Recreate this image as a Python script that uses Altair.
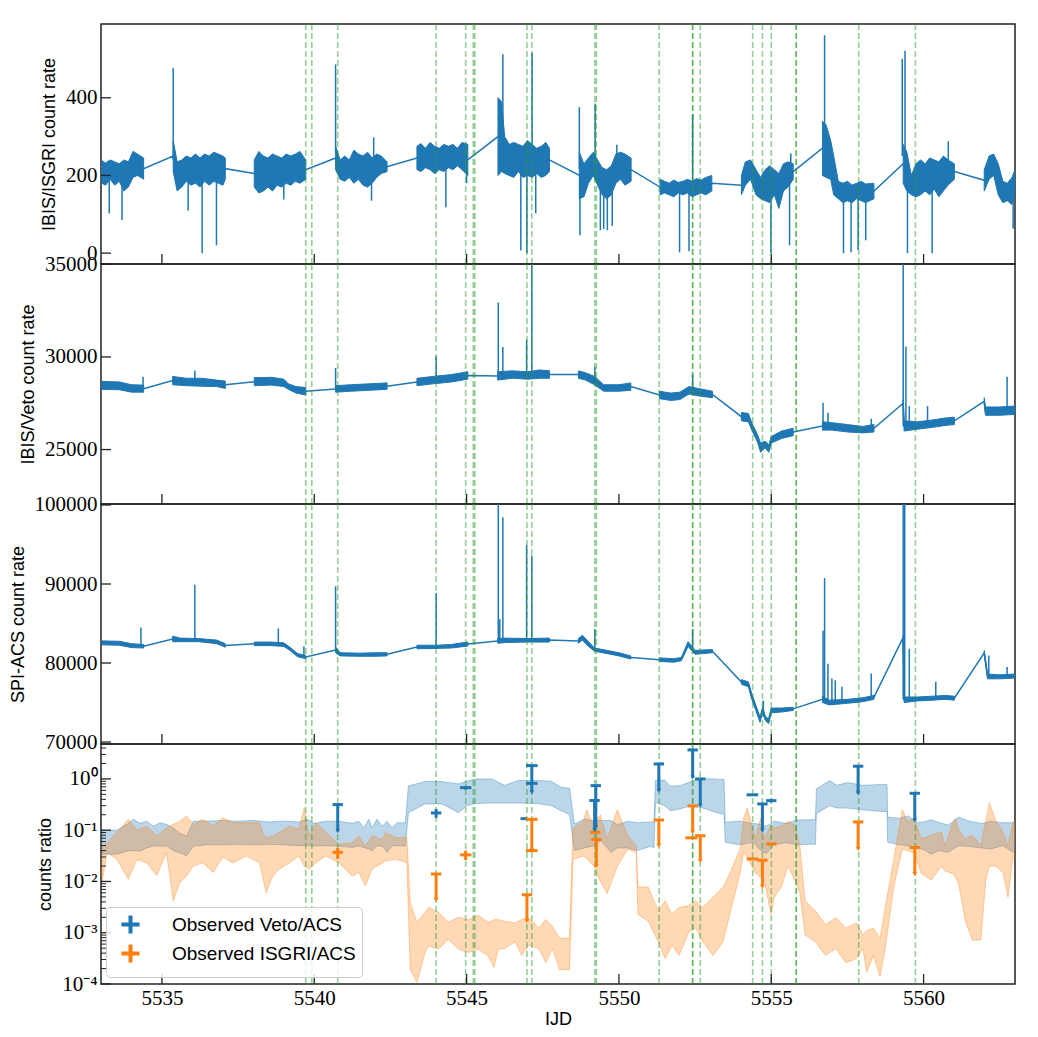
import altair as alt
import pandas as pd

BLUE = "#1f77b4"
ORANGE = "#ff7f0e"
GREEN = "#2ca02c"
W, H = 914, 240
X_DOMAIN = [5533, 5563]

x_ticks = [5535, 5540, 5545, 5550, 5555, 5560]

# green dashed markers (two of them are drawn twice in the original)
marker_times = [5539.72, 5539.92, 5540.77, 5544.00, 5544.97, 5545.22, 5545.27,
                5546.98, 5547.14, 5549.21, 5549.26, 5551.32, 5552.42, 5552.42,
                5552.67, 5554.39, 5554.71, 5555.00, 5555.82, 5555.82, 5557.87, 5559.73]

# ---- IBIS/ISGRI count rate: (segment, IJD, low, high) of the noisy band
isgri_band = [
    ("A", 5533.03, 180, 238), ("A", 5533.15, 175, 232), ("A", 5533.30, 190, 240), ("A", 5533.45, 175, 235),
    ("A", 5533.60, 185, 230), ("A", 5533.75, 160, 240), ("A", 5533.90, 170, 235), ("A", 5534.05, 195, 262),
    ("A", 5534.20, 200, 255), ("A", 5534.40, 190, 245),
    ("B", 5535.37, 210, 290), ("B", 5535.50, 160, 235), ("B", 5535.65, 170, 240), ("B", 5535.80, 185, 250),
    ("B", 5535.95, 175, 245), ("B", 5536.10, 180, 255), ("B", 5536.25, 170, 245), ("B", 5536.40, 185, 255),
    ("B", 5536.55, 175, 250), ("B", 5536.70, 185, 260), ("B", 5536.85, 180, 255), ("B", 5537.00, 175, 250),
    ("B", 5537.08, 190, 245),
    ("C", 5538.03, 170, 240), ("C", 5538.18, 155, 262), ("C", 5538.33, 160, 250), ("C", 5538.48, 170, 245),
    ("C", 5538.63, 160, 255), ("C", 5538.78, 175, 250), ("C", 5538.93, 170, 245), ("C", 5539.08, 180, 255),
    ("C", 5539.23, 175, 250), ("C", 5539.38, 185, 255), ("C", 5539.53, 180, 262), ("C", 5539.72, 190, 240),
    ("D", 5540.70, 215, 275), ("D", 5540.85, 190, 240), ("D", 5541.00, 185, 250), ("D", 5541.15, 195, 240),
    ("D", 5541.30, 180, 265), ("D", 5541.45, 190, 255), ("D", 5541.60, 175, 250), ("D", 5541.75, 170, 260),
    ("D", 5541.90, 180, 245), ("D", 5542.05, 195, 255), ("D", 5542.20, 205, 250), ("D", 5542.39, 210, 235),
    ("E", 5543.37, 215, 275), ("E", 5543.50, 210, 282), ("E", 5543.65, 220, 270), ("E", 5543.80, 215, 285),
    ("E", 5543.95, 205, 275), ("E", 5544.10, 215, 270), ("E", 5544.25, 210, 280), ("E", 5544.40, 220, 275),
    ("E", 5544.55, 215, 280), ("E", 5544.70, 225, 270), ("E", 5544.85, 215, 285), ("E", 5545.04, 200, 280),
    ("F", 5546.03, 200, 400), ("F", 5546.15, 210, 390), ("F", 5546.25, 205, 300), ("F", 5546.40, 200, 280),
    ("F", 5546.55, 195, 285), ("F", 5546.70, 210, 280), ("F", 5546.85, 195, 275), ("F", 5547.00, 200, 290),
    ("F", 5547.15, 195, 280), ("F", 5547.30, 205, 270), ("F", 5547.45, 195, 275), ("F", 5547.60, 200, 285),
    ("F", 5547.72, 210, 270),
    ("G", 5548.70, 140, 260), ("G", 5548.85, 145, 230), ("G", 5549.00, 180, 245), ("G", 5549.16, 200, 260),
    ("G", 5549.30, 175, 240), ("G", 5549.45, 150, 220), ("G", 5549.60, 140, 215), ("G", 5549.75, 150, 225),
    ("G", 5549.90, 180, 255), ("G", 5550.05, 190, 260), ("G", 5550.20, 175, 255), ("G", 5550.40, 185, 245),
    ("H", 5551.35, 150, 190), ("H", 5551.50, 155, 185), ("H", 5551.65, 150, 180), ("H", 5551.80, 145, 188),
    ("H", 5551.95, 155, 182), ("H", 5552.10, 150, 185), ("H", 5552.25, 155, 190), ("H", 5552.40, 145, 185),
    ("H", 5552.55, 150, 192), ("H", 5552.70, 155, 188), ("H", 5552.85, 150, 195), ("H", 5553.05, 160, 200),
    ("I", 5554.02, 150, 200), ("I", 5554.15, 175, 235), ("I", 5554.32, 190, 240), ("I", 5554.50, 150, 215),
    ("I", 5554.65, 140, 195), ("I", 5554.80, 135, 215), ("I", 5554.95, 130, 225), ("I", 5555.10, 150, 215),
    ("I", 5555.25, 115, 205), ("I", 5555.40, 160, 230), ("I", 5555.55, 170, 235), ("I", 5555.72, 190, 230),
    ("J", 5556.68, 200, 340), ("J", 5556.80, 195, 330), ("J", 5556.95, 190, 290), ("J", 5557.05, 150, 250),
    ("J", 5557.20, 140, 185), ("J", 5557.35, 130, 180), ("J", 5557.50, 135, 185), ("J", 5557.65, 130, 175),
    ("J", 5557.80, 140, 180), ("J", 5557.95, 135, 185), ("J", 5558.10, 130, 178), ("J", 5558.37, 140, 180),
    ("K", 5559.33, 180, 280), ("K", 5559.45, 160, 260), ("K", 5559.60, 150, 200), ("K", 5559.75, 145, 230),
    ("K", 5559.90, 150, 240), ("K", 5560.05, 160, 230), ("K", 5560.20, 150, 245), ("K", 5560.35, 165, 240),
    ("K", 5560.50, 145, 235), ("K", 5560.65, 160, 250), ("K", 5560.80, 175, 240), ("K", 5561.01, 190, 230),
    ("L", 5561.99, 160, 215), ("L", 5562.15, 190, 250), ("L", 5562.30, 200, 255), ("L", 5562.45, 150, 230),
    ("L", 5562.60, 130, 185), ("L", 5562.75, 135, 180), ("L", 5562.90, 125, 195), ("L", 5563.00, 160, 215),
]
# (IJD, base, tip) of single-bin spikes
isgri_spikes = [
    (5533.27, 200, 102), (5533.69, 200, 85), (5535.37, 240, 477), (5535.86, 190, 110), (5536.32, 190, 0),
    (5536.79, 190, 20), (5539.00, 190, 138), (5540.70, 260, 486), (5541.88, 200, 135), (5541.95, 230, 298),
    (5544.32, 230, 118), (5545.00, 220, 180), (5546.19, 300, 512), (5546.78, 220, 7), (5546.98, 220, 0),
    (5547.15, 240, 516), (5547.27, 220, 103), (5548.70, 216, 376), (5548.72, 200, 46), (5549.22, 220, 385),
    (5549.39, 170, 59), (5549.50, 170, 62), (5549.62, 170, 59), (5549.78, 170, 70), (5549.93, 220, 279),
    (5551.99, 165, 2), (5552.30, 165, 5), (5552.42, 170, 358), (5554.99, 170, 0), (5555.60, 190, 20),
    (5555.64, 210, 257), (5556.75, 300, 561), (5557.37, 160, 0), (5557.62, 160, 2), (5557.85, 160, 8),
    (5558.10, 160, 33), (5559.30, 250, 500), (5559.39, 250, 521), (5559.47, 200, 0), (5560.28, 190, 0),
    (5560.81, 210, 288), (5562.94, 170, 63),
]

# ---- IBIS/Veto count rate
veto_band = [
    ("A", 5533.03, 28250, 28680), ("A", 5533.60, 28230, 28650), ("A", 5534.00, 28100, 28500), ("A", 5534.40, 28100, 28480),
    ("B", 5535.35, 28500, 28950), ("B", 5535.80, 28450, 28850), ("B", 5536.30, 28420, 28850), ("B", 5536.80, 28400, 28750),
    ("B", 5537.08, 28300, 28700),
    ("C", 5538.03, 28450, 28880), ("C", 5538.60, 28480, 28900), ("C", 5539.00, 28400, 28800), ("C", 5539.15, 28250, 28550),
    ("C", 5539.40, 28050, 28400), ("C", 5539.72, 27950, 28350),
    ("D", 5540.70, 28100, 28450), ("D", 5541.20, 28150, 28500), ("D", 5541.80, 28200, 28550), ("D", 5542.39, 28250, 28600),
    ("E", 5543.37, 28450, 28850), ("E", 5543.90, 28550, 28950), ("E", 5544.50, 28650, 29050), ("E", 5545.04, 28800, 29200),
    ("F", 5546.02, 28750, 29200), ("F", 5546.50, 28850, 29250), ("F", 5547.00, 28800, 29200), ("F", 5547.40, 28850, 29300),
    ("F", 5547.72, 28850, 29250),
    ("G", 5548.67, 28850, 29250), ("G", 5548.90, 28750, 29150), ("G", 5549.20, 28500, 28950), ("G", 5549.50, 28150, 28500),
    ("G", 5550.00, 28150, 28500), ("G", 5550.39, 28200, 28600),
    ("H", 5551.33, 27750, 28150), ("H", 5551.70, 27650, 28050), ("H", 5552.00, 27700, 28100), ("H", 5552.30, 28000, 28400),
    ("H", 5552.60, 27900, 28300), ("H", 5553.07, 27800, 28150),
    ("I", 5554.02, 26550, 27000), ("I", 5554.25, 26500, 26950), ("I", 5554.36, 26050, 26450), ("I", 5554.55, 25400, 25800),
    ("I", 5554.65, 24850, 25350), ("I", 5554.80, 25100, 25450), ("I", 5554.92, 24850, 25250), ("I", 5555.00, 25350, 25700),
    ("I", 5555.34, 25600, 26000), ("I", 5555.72, 25750, 26150),
    ("J", 5556.68, 26050, 26500), ("J", 5557.00, 26050, 26450), ("J", 5557.50, 25950, 26350), ("J", 5558.00, 25900, 26250),
    ("J", 5558.37, 25950, 26350),
    ("K", 5559.33, 27300, 27700), ("K", 5559.36, 26000, 26550), ("K", 5559.80, 26100, 26500), ("K", 5560.30, 26200, 26600),
    ("K", 5560.70, 26300, 26700), ("K", 5561.01, 26350, 26750),
    ("L", 5561.99, 27400, 27800), ("L", 5562.03, 26850, 27300), ("L", 5562.50, 26850, 27300), ("L", 5563.00, 26900, 27350),
]
veto_spikes = [
    (5534.38, 28300, 28925), (5536.08, 28650, 29263), (5540.70, 28300, 29409), (5544.00, 28750, 30033),
    (5545.00, 29000, 29226), (5546.04, 28950, 32936), (5546.19, 29000, 30537), (5546.97, 29000, 30930),
    (5547.14, 29050, 35500), (5549.21, 28700, 29462), (5552.42, 28200, 29048), (5556.70, 26270, 27527),
    (5556.86, 26270, 26989), (5558.28, 26150, 26667), (5559.33, 26270, 35500), (5559.42, 26300, 30570),
    (5559.53, 26300, 27345), (5560.13, 26400, 27345), (5562.74, 27100, 28925),
]

# ---- SPI-ACS count rate
acs_band = [
    ("A", 5533.03, 82300, 82800), ("A", 5533.60, 82250, 82750), ("A", 5534.00, 81950, 82450), ("A", 5534.40, 81900, 82350),
    ("B", 5535.35, 82700, 83400), ("B", 5535.60, 82700, 83150), ("B", 5536.20, 82700, 83100), ("B", 5536.80, 82450, 82900),
    ("B", 5537.08, 82000, 82450),
    ("C", 5538.03, 82200, 82650), ("C", 5538.60, 82200, 82650), ("C", 5539.00, 82100, 82550), ("C", 5539.20, 81600, 82000),
    ("C", 5539.45, 80800, 81200), ("C", 5539.72, 80550, 80950),
    ("D", 5540.70, 81300, 82000), ("D", 5540.85, 80900, 81300), ("D", 5541.50, 80850, 81250), ("D", 5542.00, 80850, 81300),
    ("D", 5542.39, 80900, 81300),
    ("E", 5543.37, 81800, 82250), ("E", 5544.00, 81850, 82250), ("E", 5544.50, 81900, 82350), ("E", 5545.04, 82150, 82650),
    ("F", 5546.02, 82500, 83100), ("F", 5546.30, 82600, 83150), ("F", 5547.00, 82650, 83100), ("F", 5547.72, 82650, 83150),
    ("G", 5548.67, 82500, 83100), ("G", 5548.80, 82900, 83500), ("G", 5549.00, 82100, 82700), ("G", 5549.20, 81500, 81900),
    ("G", 5549.60, 81200, 81600), ("G", 5550.00, 80900, 81300), ("G", 5550.39, 80500, 80900),
    ("H", 5551.33, 80200, 80650), ("H", 5551.80, 80100, 80550), ("H", 5552.05, 80300, 80700), ("H", 5552.27, 82100, 82700),
    ("H", 5552.50, 81100, 81600), ("H", 5553.07, 81300, 81700),
    ("I", 5554.02, 77300, 77900), ("I", 5554.25, 77000, 77600), ("I", 5554.36, 75400, 76100), ("I", 5554.63, 72500, 73200),
    ("I", 5554.72, 73800, 74400), ("I", 5554.80, 72800, 73300), ("I", 5554.91, 72300, 72900), ("I", 5555.00, 73700, 74300),
    ("I", 5555.34, 73800, 74300), ("I", 5555.72, 74000, 74400),
    ("J", 5556.68, 75000, 75800), ("J", 5556.90, 74700, 75300), ("J", 5557.50, 74900, 75400), ("J", 5558.00, 75100, 75600),
    ("J", 5558.37, 75400, 75900),
    ("K", 5559.33, 83000, 83500), ("K", 5559.36, 75000, 75700), ("K", 5559.80, 75200, 75700), ("K", 5560.30, 75300, 75800),
    ("K", 5560.70, 75400, 75900), ("K", 5561.01, 75300, 75800),
    ("L", 5561.99, 81000, 81600), ("L", 5562.10, 78000, 78600), ("L", 5562.50, 78000, 78500), ("L", 5563.00, 78100, 78600),
]
acs_spikes = [
    (5534.31, 82200, 84500), (5536.08, 82900, 89917), (5538.82, 82400, 84375), (5539.66, 80750, 82125),
    (5540.70, 81700, 89710), (5544.00, 82050, 88875), (5546.04, 82800, 100500), (5546.09, 82800, 85540),
    (5546.19, 82800, 98460), (5546.97, 82900, 94917), (5547.14, 82900, 93583), (5549.21, 81700, 84290),
    (5552.42, 81400, 84290), (5554.74, 73200, 75250), (5556.70, 75400, 84083), (5556.75, 75400, 90750),
    (5556.86, 75100, 79917), (5556.99, 75100, 78042), (5557.10, 75100, 77830), (5557.32, 75100, 77000),
    (5558.28, 75600, 78667), (5559.33, 75400, 100500), (5559.38, 75400, 100500), (5559.53, 75400, 81790),
    (5560.40, 75600, 77625), (5562.14, 78300, 80958), (5562.74, 78300, 79500),
]

# ---- predicted ratio bands: (IJD, high, low)
veto_ratio_band = [
    (5533.03, 0.100, 0.034), (5533.52, 0.100, 0.034), (5533.85, 0.130, 0.039), (5534.07, 0.163, 0.040),
    (5534.28, 0.136, 0.039), (5534.50, 0.150, 0.045), (5534.72, 0.120, 0.049), (5534.94, 0.140, 0.049),
    (5535.15, 0.130, 0.049), (5535.37, 0.112, 0.040), (5535.59, 0.087, 0.036), (5535.81, 0.077, 0.032),
    (5536.03, 0.150, 0.049), (5536.50, 0.150, 0.052), (5537.00, 0.155, 0.052), (5537.50, 0.150, 0.053),
    (5538.00, 0.155, 0.052), (5538.50, 0.145, 0.053), (5539.00, 0.150, 0.052), (5539.50, 0.145, 0.050),
    (5539.77, 0.163, 0.050), (5540.00, 0.136, 0.049), (5540.38, 0.150, 0.050), (5540.80, 0.150, 0.049),
    (5541.25, 0.136, 0.046), (5541.46, 0.150, 0.049), (5541.63, 0.112, 0.046), (5541.79, 0.163, 0.043),
    (5541.90, 0.112, 0.040), (5542.06, 0.163, 0.049), (5542.23, 0.120, 0.049), (5542.39, 0.150, 0.037),
    (5542.55, 0.112, 0.049), (5542.72, 0.140, 0.050), (5542.99, 0.140, 0.049), (5543.09, 0.730, 0.220),
    (5543.64, 0.890, 0.325), (5544.20, 0.890, 0.325), (5544.73, 0.800, 0.220), (5545.00, 0.900, 0.300),
    (5545.27, 1.000, 0.330), (5545.82, 1.000, 0.340), (5546.25, 0.750, 0.340), (5546.69, 0.930, 0.340),
    (5547.34, 0.930, 0.330), (5547.78, 0.900, 0.300), (5548.10, 0.690, 0.240), (5548.38, 0.660, 0.200),
    (5548.54, 0.132, 0.040), (5548.87, 0.166, 0.045), (5549.20, 0.150, 0.050), (5549.40, 0.155, 0.063),
    (5549.74, 0.155, 0.037), (5549.95, 0.128, 0.045), (5550.28, 0.150, 0.045), (5550.60, 0.140, 0.040),
    (5551.04, 0.145, 0.048), (5551.15, 0.145, 0.046), (5551.20, 0.930, 0.350), (5551.50, 0.950, 0.300),
    (5551.69, 0.720, 0.240), (5552.00, 0.740, 0.260), (5552.35, 0.880, 0.300), (5552.67, 1.030, 0.280),
    (5553.33, 0.980, 0.210), (5553.45, 0.980, 0.210), (5553.49, 0.143, 0.058), (5553.95, 0.150, 0.052),
    (5554.42, 0.135, 0.058), (5554.65, 0.130, 0.040), (5554.85, 0.120, 0.035), (5555.08, 0.150, 0.052),
    (5555.50, 0.135, 0.057), (5555.83, 0.158, 0.052), (5556.26, 0.160, 0.053), (5556.45, 0.160, 0.053),
    (5556.48, 0.640, 0.210), (5556.92, 0.930, 0.300), (5557.15, 0.750, 0.270), (5557.50, 0.850, 0.270),
    (5558.00, 0.750, 0.250), (5558.66, 0.780, 0.230), (5558.80, 0.780, 0.230), (5558.82, 0.180, 0.058),
    (5559.20, 0.170, 0.052), (5559.50, 0.190, 0.050), (5559.80, 0.140, 0.046), (5560.06, 0.148, 0.040),
    (5560.25, 0.160, 0.034), (5560.50, 0.142, 0.040), (5560.81, 0.126, 0.037), (5561.15, 0.180, 0.050),
    (5561.50, 0.150, 0.048), (5561.90, 0.135, 0.045), (5562.20, 0.150, 0.043), (5562.60, 0.140, 0.050),
    (5562.94, 0.140, 0.037), (5563.00, 0.140, 0.040),
]
isgri_ratio_band = [
    (5533.03, 0.049, 0.0095), (5533.20, 0.057, 0.0365), (5533.52, 0.090, 0.027), (5533.90, 0.163, 0.011),
    (5534.18, 0.100, 0.027), (5534.50, 0.120, 0.023), (5534.83, 0.077, 0.013), (5535.15, 0.110, 0.0365),
    (5535.37, 0.130, 0.0042), (5535.59, 0.150, 0.0095), (5535.81, 0.190, 0.0128), (5536.03, 0.130, 0.020),
    (5536.35, 0.163, 0.023), (5536.68, 0.120, 0.015), (5537.00, 0.176, 0.030), (5537.33, 0.140, 0.023),
    (5537.77, 0.140, 0.0315), (5538.20, 0.140, 0.023), (5538.31, 0.090, 0.012), (5538.42, 0.070, 0.006),
    (5538.64, 0.077, 0.0128), (5538.85, 0.090, 0.0173), (5539.18, 0.120, 0.023), (5539.50, 0.105, 0.0315),
    (5539.67, 0.275, 0.020), (5539.83, 0.077, 0.0173), (5540.05, 0.140, 0.023), (5540.38, 0.090, 0.0315),
    (5540.81, 0.053, 0.023), (5541.25, 0.057, 0.0128), (5541.46, 0.077, 0.015), (5541.68, 0.049, 0.0082),
    (5541.90, 0.077, 0.0173), (5542.23, 0.066, 0.023), (5542.34, 0.090, 0.025), (5542.66, 0.072, 0.027),
    (5543.04, 0.072, 0.0233), (5543.15, 0.0039, 0.00019), (5543.37, 0.0016, 0.000107), (5543.64, 0.0025, 0.00041),
    (5543.75, 0.0031, 0.00055), (5544.08, 0.0025, 0.00048), (5544.40, 0.0016, 0.00074), (5544.73, 0.0020, 0.00048),
    (5545.06, 0.0018, 0.00041), (5545.38, 0.0022, 0.00048), (5545.71, 0.0016, 0.00035), (5545.90, 0.0018, 0.00021),
    (5546.04, 0.0018, 0.00048), (5546.25, 0.00168, 0.00049), (5546.59, 0.00155, 0.00067), (5546.81, 0.00181, 0.00036),
    (5547.04, 0.00196, 0.00057), (5547.37, 0.00123, 0.00049), (5547.60, 0.00181, 0.00026), (5547.82, 0.00133, 0.00049),
    (5548.05, 0.00078, 0.00019), (5548.38, 0.00078, 0.00019), (5548.49, 0.108, 0.0269), (5548.83, 0.150, 0.0313),
    (5548.94, 0.251, 0.028), (5549.17, 0.126, 0.0198), (5549.39, 0.200, 0.010), (5549.61, 0.068, 0.0058),
    (5549.95, 0.251, 0.0198), (5550.29, 0.079, 0.043), (5550.57, 0.050, 0.0366), (5550.62, 0.0078, 0.0023),
    (5550.96, 0.0078, 0.00168), (5551.29, 0.0027, 0.00067), (5551.52, 0.0042, 0.00031), (5551.74, 0.0023, 0.00057),
    (5551.97, 0.0031, 0.00036), (5552.30, 0.0034, 0.00106), (5552.53, 0.0042, 0.00123), (5552.75, 0.0031, 0.00067),
    (5553.09, 0.0049, 0.00036), (5553.42, 0.0078, 0.00067), (5553.64, 0.0145, 0.0023), (5553.98, 0.043, 0.0145),
    (5554.09, 0.171, 0.0366), (5554.21, 0.272, 0.030), (5554.48, 0.068, 0.0145), (5554.65, 0.171, 0.012),
    (5554.77, 0.068, 0.0107), (5554.99, 0.126, 0.0023), (5555.10, 0.110, 0.0049), (5555.33, 0.120, 0.0078),
    (5555.55, 0.147, 0.0198), (5555.77, 0.126, 0.0107), (5555.94, 0.050, 0.0058), (5556.11, 0.0042, 0.00091),
    (5556.44, 0.0027, 0.00067), (5556.78, 0.00144, 0.00036), (5557.12, 0.00196, 0.00049), (5557.45, 0.00123, 0.00026),
    (5557.79, 0.00155, 0.00031), (5558.01, 0.00091, 0.00049), (5558.13, 0.0011, 0.00017), (5558.35, 0.00123, 0.00036),
    (5558.57, 0.00078, 0.00014), (5558.74, 0.0031, 0.00049), (5559.02, 0.027, 0.0078), (5559.30, 0.251, 0.043),
    (5559.47, 0.147, 0.040), (5559.69, 0.171, 0.0366), (5559.92, 0.068, 0.0145), (5560.25, 0.080, 0.0107),
    (5560.59, 0.092, 0.0198), (5560.70, 0.050, 0.016), (5560.93, 0.126, 0.0145), (5561.04, 0.171, 0.012),
    (5561.15, 0.100, 0.0091), (5561.37, 0.068, 0.00168), (5561.60, 0.080, 0.00072), (5561.88, 0.050, 0.00072),
    (5562.04, 0.150, 0.0107), (5562.16, 0.342, 0.020), (5562.38, 0.147, 0.0198), (5562.61, 0.092, 0.0145),
    (5562.77, 0.050, 0.0049), (5562.94, 0.147, 0.0313), (5563.00, 0.150, 0.030),
]

# ---- observed ratios: (IJD, value, low, high, half width, upper limit)
veto_obs = [
    (5540.77, 0.316, 0.095, 0.316, 0.17, True), (5544.00, 0.217, 0.174, 0.26, 0.17, False),
    (5544.97, 0.676, 0.62, 0.73, 0.19, False), (5546.87, 0.168, 0.168, 0.168, 0.10, False),
    (5547.14, 1.82, 0.55, 1.82, 0.19, True), (5547.14, 0.82, 0.82, 0.82, 0.19, False),
    (5549.24, 0.74, 0.114, 0.74, 0.17, True), (5549.20, 0.38, 0.10, 0.38, 0.17, True),
    (5551.31, 1.96, 0.59, 1.96, 0.17, True), (5552.42, 3.68, 1.07, 3.68, 0.17, True),
    (5552.67, 1.0, 0.30, 1.0, 0.17, True), (5554.38, 0.49, 0.49, 0.49, 0.19, False),
    (5554.71, 0.325, 0.098, 0.325, 0.17, True), (5555.00, 0.377, 0.35, 0.41, 0.17, False),
    (5557.85, 1.77, 0.525, 1.77, 0.17, True), (5559.71, 0.525, 0.154, 0.525, 0.17, True),
]
isgri_obs = [
    (5540.77, 0.037, 0.0275, 0.045, 0.17, False), (5544.00, 0.014, 0.0044, 0.014, 0.17, True),
    (5544.97, 0.033, 0.026, 0.040, 0.19, False), (5546.98, 0.0055, 0.0017, 0.0055, 0.17, True),
    (5547.14, 0.163, 0.040, 0.163, 0.19, True), (5547.14, 0.040, 0.040, 0.040, 0.19, False),
    (5549.22, 0.091, 0.091, 0.091, 0.17, False), (5549.26, 0.066, 0.020, 0.066, 0.17, True),
    (5551.31, 0.158, 0.050, 0.158, 0.17, True), (5552.42, 0.297, 0.091, 0.297, 0.17, True),
    (5552.38, 0.071, 0.071, 0.071, 0.20, False), (5552.67, 0.078, 0.025, 0.078, 0.17, True),
    (5554.38, 0.0275, 0.0275, 0.0275, 0.19, False), (5554.71, 0.026, 0.0079, 0.026, 0.17, True),
    (5555.00, 0.054, 0.054, 0.054, 0.17, False), (5557.85, 0.145, 0.043, 0.145, 0.17, True),
    (5559.71, 0.046, 0.014, 0.046, 0.17, True),
]

ratio_ticks = [1e-4, 1e-3, 1e-2, 1e-1, 1]
ratio_minor = [m * 10.0 ** k for k in range(-4, 1) for m in range(2, 10) if m * 10.0 ** k < 4.8]

LABEL_FONT = "Liberation Serif"
TITLE_FONT = "Liberation Sans"


def xscale():
    return alt.Scale(domain=X_DOMAIN, nice=False, zero=False)


def common_layers(xs, xax, ys, yax, yvals, minor=None):
    # green markers and the inward pointing ticks
    greens = alt.Chart(pd.DataFrame({"t": marker_times})).mark_rule(
        color=GREEN, opacity=0.5, strokeWidth=1.6, strokeDash=[6, 3]
    ).encode(x=alt.X("t:Q", scale=xs, axis=xax))
    xt = alt.Chart(pd.DataFrame({"t": x_ticks})).mark_rule(color="#222", strokeWidth=1.3).encode(
        x=alt.X("t:Q", scale=xs, axis=xax), y=alt.value(H), y2=alt.value(H - 10)
    )
    yt = alt.Chart(pd.DataFrame({"v": yvals})).mark_rule(color="#222", strokeWidth=1.3).encode(
        y=alt.Y("v:Q", scale=ys, axis=yax), x=alt.value(0), x2=alt.value(10)
    )
    layers = [greens, xt, yt]
    if minor:
        ym = alt.Chart(pd.DataFrame({"v": minor})).mark_rule(color="#222", strokeWidth=1).encode(
            y=alt.Y("v:Q", scale=ys, axis=yax), x=alt.value(0), x2=alt.value(5)
        )
        layers.append(ym)
    return layers


def count_panel(band, spikes, ydom, yvals, ytitle):
    xs = xscale()
    ys = alt.Scale(domain=ydom, nice=False, zero=False)
    yax = alt.Axis(values=yvals, title=ytitle, format="d")
    df = pd.DataFrame(band, columns=["seg", "t", "lo", "hi"])
    df["mid"] = (df["lo"] + df["hi"]) / 2
    area = alt.Chart(df).mark_area(color=BLUE, stroke=BLUE, strokeWidth=1, clip=True).encode(
        x=alt.X("t:Q", scale=xs, axis=None),
        y=alt.Y("lo:Q", scale=ys, axis=yax),
        y2="hi:Q",
        detail="seg:N",
    )
    line = alt.Chart(df).mark_line(color=BLUE, strokeWidth=1.5, clip=True).encode(
        x=alt.X("t:Q", scale=xs, axis=None),
        y=alt.Y("mid:Q", scale=ys, axis=yax),
    )
    sp = alt.Chart(pd.DataFrame(spikes, columns=["t", "base", "tip"])).mark_rule(
        color=BLUE, strokeWidth=1.5, clip=True
    ).encode(
        x=alt.X("t:Q", scale=xs, axis=None),
        y=alt.Y("base:Q", scale=ys, axis=yax),
        y2="tip:Q",
    )
    return alt.layer(area, line, sp, *common_layers(xs, None, ys, yax, yvals)).properties(width=W, height=H)


def ratio_panel():
    xs = xscale()
    ys = alt.Scale(type="log", domain=[1e-4, 4.8], nice=False)
    xax = alt.Axis(values=x_ticks, format="d", title="IJD", labelFlush=False, labelPadding=3, titlePadding=2)
    yax = alt.Axis(values=ratio_ticks, title="counts ratio",
                   labelExpr="['10⁻⁴','10⁻³','10⁻²','10⁻¹','10⁰'][round(log(datum.value)/LN10)+4]")
    vb = pd.DataFrame(veto_ratio_band, columns=["t", "hi", "lo"])
    ib = pd.DataFrame(isgri_ratio_band, columns=["t", "hi", "lo"])
    blue = alt.Chart(vb).mark_area(
        color=BLUE, fillOpacity=0.3, stroke=BLUE, strokeOpacity=0.35, strokeWidth=1, clip=True
    ).encode(
        x=alt.X("t:Q", scale=xs, axis=xax),
        y=alt.Y("lo:Q", scale=ys, axis=yax),
        y2="hi:Q",
    )
    orange = alt.Chart(ib).mark_area(
        color=ORANGE, fillOpacity=0.3, stroke=ORANGE, strokeOpacity=0.35, strokeWidth=1, clip=True
    ).encode(
        x=alt.X("t:Q", scale=xs, axis=xax),
        y=alt.Y("lo:Q", scale=ys, axis=yax),
        y2="hi:Q",
    )

    cols = ["t", "val", "lo", "hi", "xerr", "uplim"]
    o1 = pd.DataFrame(veto_obs, columns=cols)
    o1["series"] = "Observed Veto/ACS"
    o2 = pd.DataFrame(isgri_obs, columns=cols)
    o2["series"] = "Observed ISGRI/ACS"
    obs = pd.concat([o1, o2], ignore_index=True)
    obs["x1"] = obs["t"] - obs["xerr"]
    obs["x2"] = obs["t"] + obs["xerr"]

    names = ["Observed Veto/ACS", "Observed ISGRI/ACS"]
    cscale = alt.Scale(domain=names, range=[BLUE, ORANGE])
    leg = alt.Legend(
        title=None, orient="none", legendX=5, legendY=163, direction="vertical",
        symbolType="M-1,0H1M0,-1V1", symbolSize=330, symbolStrokeWidth=4,
        labelFont=TITLE_FONT, labelFontSize=19, labelColor="black", labelLimit=400,
        fillColor="rgba(255,255,255,0.8)", strokeColor="#cccccc", cornerRadius=4, padding=6,
        rowPadding=-6, symbolOffset=7, labelOffset=30,
    )
    color = alt.Color("series:N", scale=cscale, legend=leg)

    hbar = alt.Chart(obs).mark_rule(strokeWidth=3).encode(
        x=alt.X("x1:Q", scale=xs, axis=xax), x2="x2:Q",
        y=alt.Y("val:Q", scale=ys, axis=yax), color=color,
    )
    vbar = alt.Chart(obs).mark_rule(strokeWidth=3).encode(
        x=alt.X("t:Q", scale=xs, axis=xax),
        y=alt.Y("lo:Q", scale=ys, axis=yax), y2="hi:Q", color=color,
    )
    tips = alt.Chart(obs).transform_filter("datum.uplim").mark_point(
        shape="triangle-down", filled=True, size=22, opacity=1, strokeWidth=0
    ).encode(
        x=alt.X("t:Q", scale=xs, axis=xax),
        y=alt.Y("lo:Q", scale=ys, axis=yax),
        fill=alt.Fill("series:N", scale=cscale, legend=None),
    )
    extra = common_layers(xs, xax, ys, yax, ratio_ticks, ratio_minor)
    return alt.layer(blue, orange, extra[0], hbar, vbar, tips, *extra[1:]).properties(width=W, height=H)


p1 = count_panel(isgri_band, isgri_spikes, [-28, 590], [0, 200, 400], "IBIS/ISGRI count rate")
p2 = count_panel(veto_band, veto_spikes, [22060, 35020], [25000, 30000, 35000], "IBIS/Veto count rate")
p3 = count_panel(acs_band, acs_spikes, [69750, 100125], [70000, 80000, 90000, 100000], "SPI-ACS count rate")
p4 = ratio_panel()

chart = alt.vconcat(p1, p2, p3, p4, spacing=0, bounds="flush").resolve_scale(
    color="independent", fill="independent"
).resolve_legend(color="independent").properties(
    padding={"left": 0, "top": 14, "right": 5, "bottom": 0}
).configure_axis(
    labelFont=LABEL_FONT, labelFontSize=21, labelColor="black",
    titleFont=TITLE_FONT, titleFontSize=18, titleFontWeight="normal", titleColor="black",
    ticks=False, domain=False, grid=False, labelPadding=4, titlePadding=7,
).configure_view(stroke="#222222", strokeWidth=1.5)

chart.save("out.html", embed_options={"renderer": "svg", "actions": False})
